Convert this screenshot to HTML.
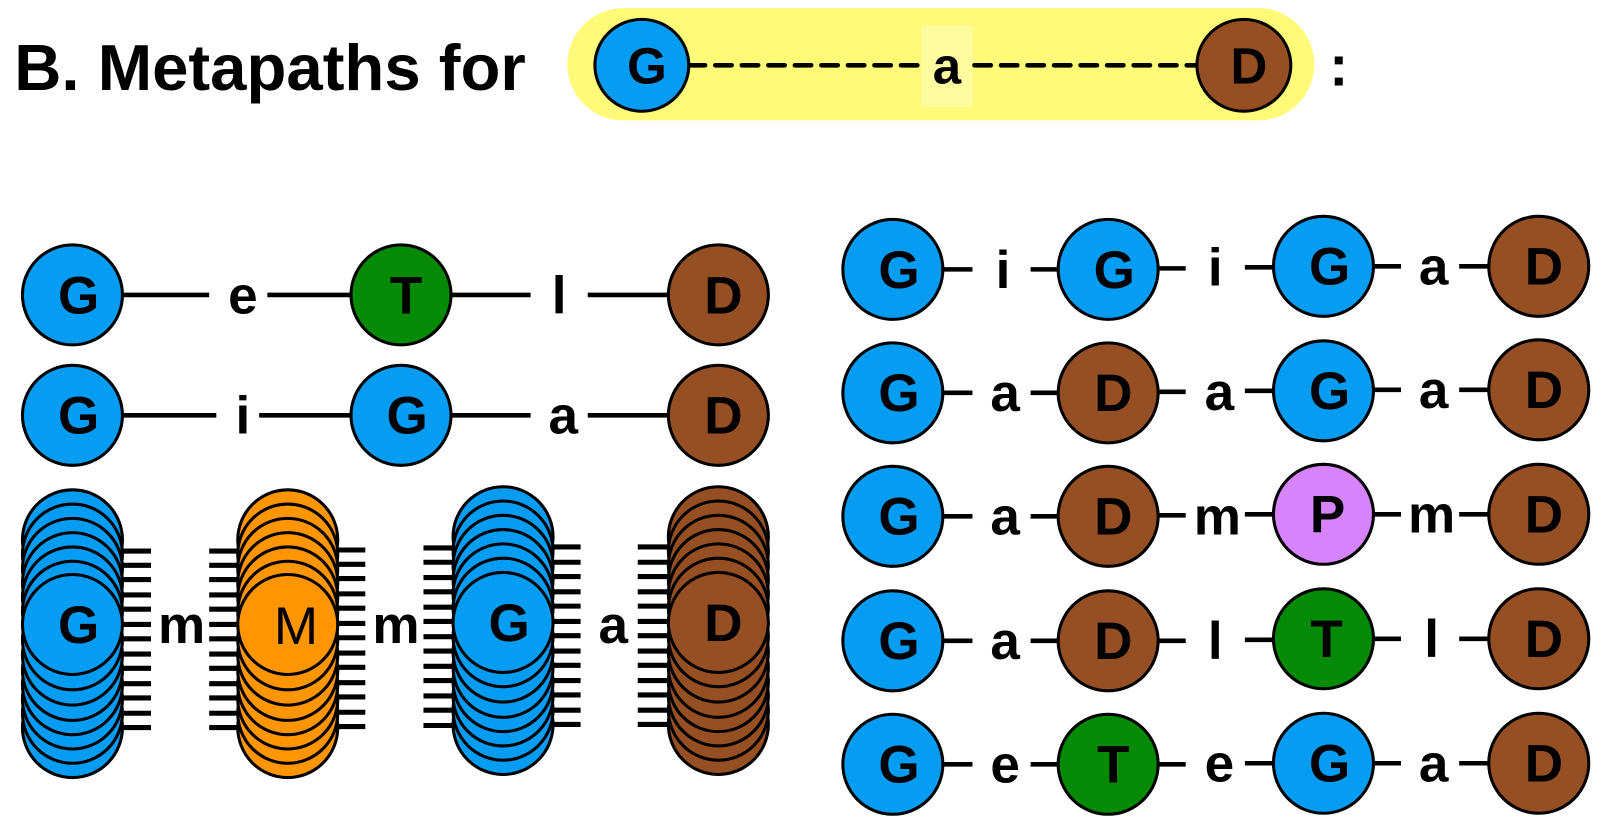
<!DOCTYPE html>
<html><head><meta charset="utf-8"><style>html,body{margin:0;padding:0;background:#fff;width:1600px;height:833px;overflow:hidden}</style></head>
<body>
<svg width="1600" height="833" xmlns="http://www.w3.org/2000/svg" font-family="Liberation Sans, sans-serif" font-weight="bold">
<g transform="scale(1.0204)">
<text x="14" y="88" font-size="64">B. Metapaths for</text>
<rect x="556" y="8" width="732" height="110" rx="55" fill="#fffa78"/>
<rect x="903" y="25" width="50" height="80" fill="#fffca0"/>
<line x1="675" y1="64" x2="900" y2="64" stroke="#000" stroke-width="4.5" stroke-dasharray="16,10" stroke-linecap="round"/>
<line x1="955" y1="64" x2="1173" y2="64" stroke="#000" stroke-width="4.5" stroke-dasharray="16,10" stroke-linecap="round"/>
<ellipse cx="629" cy="64" rx="46" ry="45" fill="#059cf3" stroke="#000" stroke-width="3"/>
<ellipse cx="1219" cy="64" rx="46" ry="45" fill="#964f22" stroke="#000" stroke-width="3"/>
<g font-size="50" text-anchor="middle">
<text x="634" y="82">G</text><text x="1224" y="82">D</text><text x="928" y="82">a</text>
<text x="1312" y="84" font-size="56">:</text>
</g>
<g stroke="#000" stroke-width="4.5">
<line x1="120" y1="289" x2="205" y2="289"/><line x1="262" y1="289" x2="344" y2="289"/>
<line x1="442" y1="289" x2="520" y2="289"/><line x1="576" y1="289" x2="656" y2="289"/>
<line x1="120" y1="407" x2="212" y2="407"/><line x1="254" y1="407" x2="344" y2="407"/>
<line x1="442" y1="407" x2="520" y2="407"/><line x1="576" y1="407" x2="656" y2="407"/>
</g>
<g stroke="#000" stroke-width="3">
<circle cx="71" cy="289" r="49" fill="#059cf3"/><circle cx="393" cy="289" r="49" fill="#048a04"/><circle cx="704" cy="289" r="49" fill="#964f22"/>
<circle cx="71" cy="407" r="49" fill="#059cf3"/><circle cx="393" cy="407" r="49" fill="#059cf3"/><circle cx="704" cy="407" r="49" fill="#964f22"/>
</g>
<g font-size="52" text-anchor="middle">
<text x="77" y="307">G</text><text x="398" y="307">T</text><text x="709" y="307">D</text>
<text x="77" y="425">G</text><text x="399" y="425">G</text><text x="709" y="425">D</text>
<text x="238" y="307">e</text><text x="548" y="307">l</text>
<text x="238" y="425">i</text><text x="552" y="425">a</text>
</g>
<g stroke="#000" stroke-width="3">
<circle cx="71" cy="529" r="49" fill="#059cf3"/><circle cx="71" cy="543" r="49" fill="#059cf3"/><circle cx="71" cy="557" r="49" fill="#059cf3"/><circle cx="71" cy="571" r="49" fill="#059cf3"/><circle cx="71" cy="585" r="49" fill="#059cf3"/><circle cx="71" cy="599" r="49" fill="#059cf3"/>
<circle cx="71" cy="713" r="49" fill="#059cf3"/><circle cx="71" cy="699" r="49" fill="#059cf3"/><circle cx="71" cy="685" r="49" fill="#059cf3"/><circle cx="71" cy="671" r="49" fill="#059cf3"/><circle cx="71" cy="657" r="49" fill="#059cf3"/><circle cx="71" cy="642" r="49" fill="#059cf3"/><circle cx="71" cy="627" r="49" fill="#059cf3"/>
<circle cx="71" cy="612" r="49" fill="#059cf3"/>
<circle cx="282" cy="529" r="49" fill="#ff9500"/><circle cx="282" cy="543" r="49" fill="#ff9500"/><circle cx="282" cy="557" r="49" fill="#ff9500"/><circle cx="282" cy="571" r="49" fill="#ff9500"/><circle cx="282" cy="585" r="49" fill="#ff9500"/><circle cx="282" cy="599" r="49" fill="#ff9500"/>
<circle cx="282" cy="713" r="49" fill="#ff9500"/><circle cx="282" cy="699" r="49" fill="#ff9500"/><circle cx="282" cy="685" r="49" fill="#ff9500"/><circle cx="282" cy="671" r="49" fill="#ff9500"/><circle cx="282" cy="657" r="49" fill="#ff9500"/><circle cx="282" cy="642" r="49" fill="#ff9500"/><circle cx="282" cy="627" r="49" fill="#ff9500"/>
<circle cx="282" cy="612" r="49" fill="#ff9500"/>
<circle cx="493" cy="526" r="49" fill="#059cf3"/><circle cx="493" cy="540" r="49" fill="#059cf3"/><circle cx="493" cy="554" r="49" fill="#059cf3"/><circle cx="493" cy="568" r="49" fill="#059cf3"/><circle cx="493" cy="582" r="49" fill="#059cf3"/><circle cx="493" cy="596" r="49" fill="#059cf3"/>
<circle cx="493" cy="710" r="49" fill="#059cf3"/><circle cx="493" cy="696" r="49" fill="#059cf3"/><circle cx="493" cy="682" r="49" fill="#059cf3"/><circle cx="493" cy="668" r="49" fill="#059cf3"/><circle cx="493" cy="654" r="49" fill="#059cf3"/><circle cx="493" cy="639" r="49" fill="#059cf3"/><circle cx="493" cy="624" r="49" fill="#059cf3"/>
<circle cx="493" cy="610" r="49" fill="#059cf3"/>
<circle cx="704" cy="526" r="49" fill="#964f22"/><circle cx="704" cy="540" r="49" fill="#964f22"/><circle cx="704" cy="554" r="49" fill="#964f22"/><circle cx="704" cy="568" r="49" fill="#964f22"/><circle cx="704" cy="582" r="49" fill="#964f22"/><circle cx="704" cy="596" r="49" fill="#964f22"/>
<circle cx="704" cy="710" r="49" fill="#964f22"/><circle cx="704" cy="696" r="49" fill="#964f22"/><circle cx="704" cy="682" r="49" fill="#964f22"/><circle cx="704" cy="668" r="49" fill="#964f22"/><circle cx="704" cy="654" r="49" fill="#964f22"/><circle cx="704" cy="639" r="49" fill="#964f22"/><circle cx="704" cy="624" r="49" fill="#964f22"/>
<circle cx="704" cy="610" r="49" fill="#964f22"/>
</g>
<g stroke="#000" stroke-width="5">
<path d="M120 540h28M120 554h28M120 568h28M120 583h28M120 597h28M120 612h28M120 626h28M120 641h28M120 655h28M120 670h28M120 684h28M120 699h28M120 713h28"/>
<path d="M205 540h28M205 554h28M205 568h28M205 583h28M205 597h28M205 612h28M205 626h28M205 641h28M205 655h28M205 670h28M205 684h28M205 699h28M205 713h28"/>
<path d="M331 539h27M331 553h27M331 567h27M331 582h27M331 596h27M331 611h27M331 625h27M331 640h27M331 654h27M331 669h27M331 683h27M331 698h27M331 712h27"/>
<path d="M415 537h28M415 551h28M415 566h28M415 580h28M415 595h28M415 609h28M415 624h28M415 638h28M415 653h28M415 667h28M415 682h28M415 696h28M415 711h28"/>
<path d="M542 536h27M542 551h27M542 565h27M542 580h27M542 594h27M542 609h27M542 623h27M542 638h27M542 652h27M542 667h27M542 681h27M542 696h27M542 710h27"/>
<path d="M625 536h30M625 551h30M625 565h30M625 580h30M625 594h30M625 609h30M625 623h30M625 638h30M625 652h30M625 667h30M625 681h30M625 696h30M625 710h30"/>
</g>
<g font-size="52" text-anchor="middle">
<text x="77" y="630">G</text><text x="290" y="631" font-weight="normal">M</text><text x="499" y="628">G</text><text x="709" y="628">D</text>
<text x="178" y="630">m</text><text x="388" y="630">m</text><text x="601" y="630">a</text>
</g>
<g stroke="#000" stroke-width="4.5">
<path d="M924 264h29M1010 264h27M1134 263h28M1220 262h27M1345 261h28M1430 261h29"/>
<path d="M924 385h29M1010 385h27M1134 384h28M1220 383h27M1345 382h28M1430 382h29"/>
<path d="M924 506h29M1010 506h27M1134 505h28M1220 504h27M1345 504h28M1430 504h29"/>
<path d="M924 628h29M1010 628h27M1134 628h28M1220 627h27M1345 626h28M1430 626h29"/>
<path d="M924 749h29M1010 749h27M1134 749h28M1220 748h27M1345 748h28M1430 748h29"/>
</g>
<g stroke="#000" stroke-width="3">
<circle cx="875" cy="264" r="49" fill="#059cf3"/><circle cx="1086" cy="264" r="49" fill="#059cf3"/><circle cx="1297" cy="261" r="49" fill="#059cf3"/><circle cx="1508" cy="261" r="49" fill="#964f22"/>
<circle cx="875" cy="385" r="49" fill="#059cf3"/><circle cx="1086" cy="385" r="49" fill="#964f22"/><circle cx="1297" cy="383" r="49" fill="#059cf3"/><circle cx="1508" cy="382" r="49" fill="#964f22"/>
<circle cx="875" cy="506" r="49" fill="#059cf3"/><circle cx="1086" cy="506" r="49" fill="#964f22"/><circle cx="1297" cy="504" r="49" fill="#d783fc"/><circle cx="1508" cy="504" r="49" fill="#964f22"/>
<circle cx="875" cy="628" r="49" fill="#059cf3"/><circle cx="1086" cy="628" r="49" fill="#964f22"/><circle cx="1297" cy="626" r="49" fill="#048a04"/><circle cx="1508" cy="626" r="49" fill="#964f22"/>
<circle cx="875" cy="749" r="49" fill="#059cf3"/><circle cx="1086" cy="749" r="49" fill="#048a04"/><circle cx="1297" cy="748" r="49" fill="#059cf3"/><circle cx="1508" cy="748" r="49" fill="#964f22"/>
</g>
<g font-size="52" text-anchor="middle">
<text x="881" y="282">G</text><text x="1092" y="282">G</text><text x="1303" y="279">G</text><text x="1513" y="279">D</text>
<text x="983" y="282">i</text><text x="1191" y="280">i</text><text x="1405" y="279">a</text>
<text x="881" y="403">G</text><text x="1091" y="403">D</text><text x="1303" y="401">G</text><text x="1513" y="400">D</text>
<text x="985" y="403">a</text><text x="1195" y="402">a</text><text x="1405" y="400">a</text>
<text x="881" y="524">G</text><text x="1091" y="524">D</text><text x="1301" y="522">P</text><text x="1513" y="522">D</text>
<text x="985" y="524">a</text><text x="1193" y="524">m</text><text x="1403" y="522">m</text>
<text x="881" y="646">G</text><text x="1091" y="646">D</text><text x="1300" y="644">T</text><text x="1513" y="644">D</text>
<text x="985" y="646">a</text><text x="1191" y="646">l</text><text x="1403" y="644">l</text>
<text x="881" y="767">G</text><text x="1091" y="767">T</text><text x="1303" y="766">G</text><text x="1513" y="766">D</text>
<text x="985" y="767">e</text><text x="1195" y="766">e</text><text x="1405" y="766">a</text>
</g>
</g>
</svg>
</body></html>
